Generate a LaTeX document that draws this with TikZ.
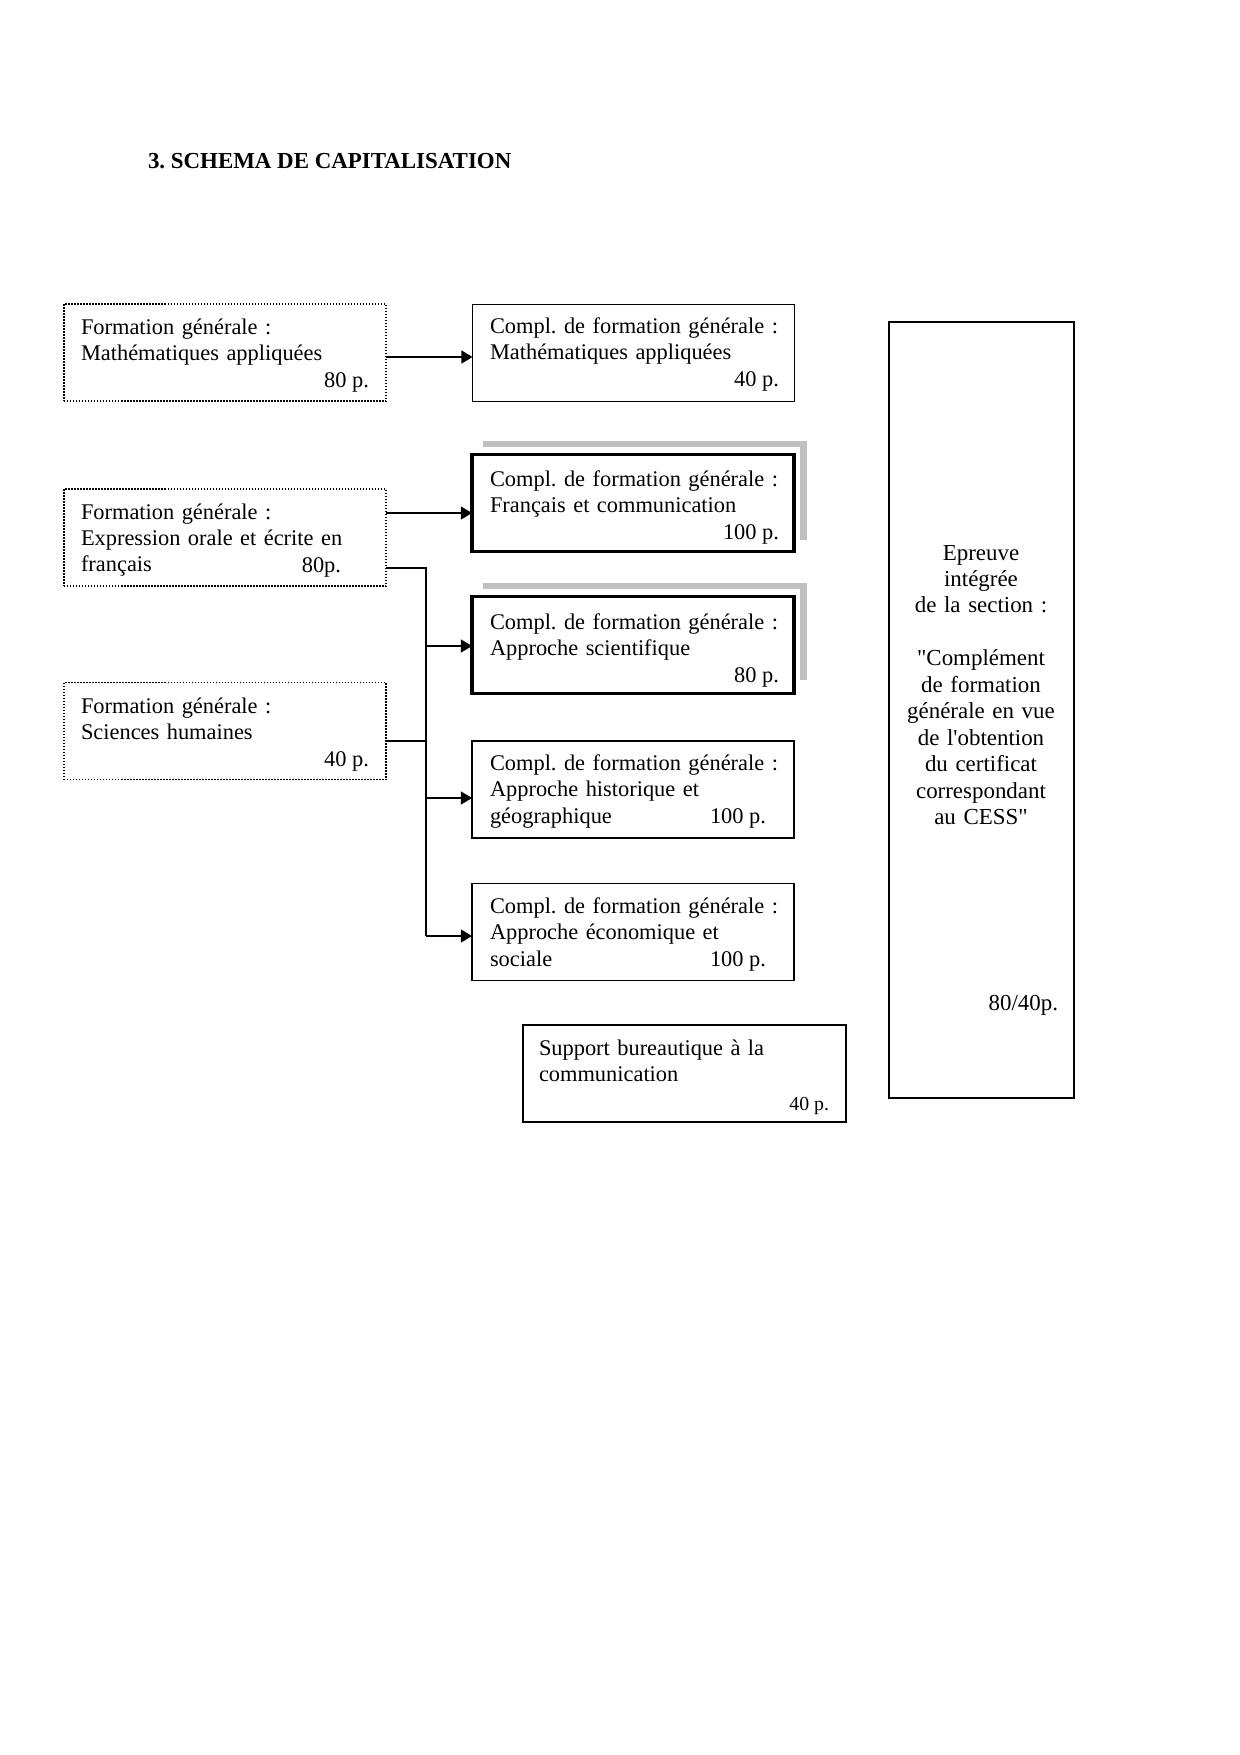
\documentclass[tikz,border=0pt]{standalone}
\usepackage{fontspec}
\setmainfont{Liberation Serif}[Ligatures=TeXOff]
\usetikzlibrary{arrows.meta,calc}
\definecolor{shadowgray}{RGB}{192,192,192}
\frenchspacing
\begin{document}
\begin{tikzpicture}[x=0.48pt,y=-0.48pt,
  every node/.style={inner sep=0pt, outer sep=0pt},
  boxbase/.style={draw, inner sep=0pt, minimum width=154.56pt, minimum height=46.56pt},
  dotbox/.style={boxbase, line width=0.75pt, dash pattern=on 0.72pt off 0.72pt},
  thinbox/.style={boxbase, line width=0.9pt},
  thickbox/.style={boxbase, line width=1.6pt},
  txt/.style={anchor=base west, text width=150pt, align=left, font=\fontsize{10.75}{12.7}\selectfont},
  num/.style={anchor=base east, font=\fontsize{10.75}{12.7}\selectfont},
  conn/.style={line width=0.7pt},
  arr/.style={conn, -{Triangle[length=5.3pt,width=6.2pt]}},
  shadowline/.style={draw=shadowgray, line width=3.1pt}]
\path[use as bounding box] (0,0) rectangle (1240,1755);

% title
\node[anchor=base west, font=\fontsize{11}{13}\selectfont\bfseries] (title) at (148,168) {3. SCHEMA DE CAPITALISATION};

% left column (dotted)
\node[dotbox] (L1) at (225,352.5) {};
\node[txt] (L1t) at (81,334) {Formation générale~:\\Mathématiques appliquées};
\node[num] (L1n) at (369,387) {80 p.};
\node[dotbox] (L2) at (225,537.5) {};
\node[txt] (L2t) at (81,519) {Formation générale~:\\Expression orale et écrite en\\français};
\node[num] (L2n) at (341,572) {80p.};
\node[dotbox] (L3) at (225,731) {};
\node[txt] (L3t) at (81,713) {Formation générale~:\\Sciences humaines};
\node[num] (L3n) at (369,766) {40 p.};

% shadows
\draw[shadowline] ($(633,503)+(-150,-59)$) coordinate (s2a) -- ++(320.5,0) coordinate (s2b) -- ++(0,96) coordinate (s2c);
\draw[shadowline] ($(633,645)+(-150,-59)$) coordinate (s3a) -- ++(320.5,0) coordinate (s3b) -- ++(0,94) coordinate (s3c);

% middle column
\node[thinbox] (R1) at (633.5,353) {};
\node[txt] (R1t) at (490,333.5) {Compl. de formation générale~:\\Mathématiques appliquées};
\node[num] (R1n) at (779,386.4) {40 p.};
\node[thickbox, fill=white] (R2) at (633,503) {};
\node[txt] (R2t) at (490,486.5) {Compl. de formation générale~:\\Français et communication};
\node[num] (R2n) at (779,539.4) {100 p.};
\node[thickbox, fill=white] (R3) at (633,645) {};
\node[txt] (R3t) at (490,629.5) {Compl. de formation générale~:\\Approche scientifique};
\node[num] (R3n) at (779,682.4) {80 p.};
\node[thinbox] (R4) at (633,789.5) {};
\node[txt] (R4t) at (490,770.5) {Compl. de formation générale~:\\Approche historique et\\géographique};
\node[num] (R4n) at (766,823.4) {100 p.};
\node[thinbox] (R5) at (633,932) {};
\node[txt] (R5t) at (490,913.5) {Compl. de formation générale~:\\Approche économique et\\sociale};
\node[num] (R5n) at (766,966.4) {100 p.};

% support box
\node[thinbox, minimum width=155.04pt] (S) at (684.5,1073.5) {};
\node[txt] (St) at (539,1055) {Support bureautique à la\\communication};
\node[anchor=base east, font=\fontsize{9.5}{12}\selectfont] (Sp) at (829,1110) {40 p.};

% integrated test box
\node[thinbox, minimum width=88.8pt, minimum height=372.48pt] (E) at (981.5,710) {};
\node[anchor=base, text width=80pt, align=center, font=\fontsize{11}{12.7}\selectfont] (Et) at (981,560)
  {Epreuve\\intégrée\\de la section~:\\[12.7pt]"Complément\\de formation\\générale en vue\\de l'obtention\\du certificat\\correspondant\\au CESS"};
\node[anchor=base east, font=\fontsize{11}{12.7}\selectfont] (Ep) at (1058,1010) {80/40p.};

% connectors
\coordinate (a1) at (0,357);
\draw[arr] (L1.east |- a1) -- (R1.west |- a1);
\coordinate (a2) at (0,513);
\draw[arr] (L2.east |- a2) -- (R2.west |- a2);
\coordinate (tTop) at (426,568);
\coordinate (tMid) at (426,741);
\coordinate (tBot) at (426,936);
\draw[conn] (L2.east |- tTop) -- (tTop) -- (tBot);
\draw[conn] (L3.east |- tMid) -- (tMid);
\coordinate (a3) at (426,646);
\coordinate (a4) at (426,798);
\draw[arr] (a3) -- (R3.west |- a3);
\draw[arr] (a4) -- (R4.west |- a4);
\draw[arr] (tBot) -- (R5.west |- tBot);
\end{tikzpicture}
\end{document}
